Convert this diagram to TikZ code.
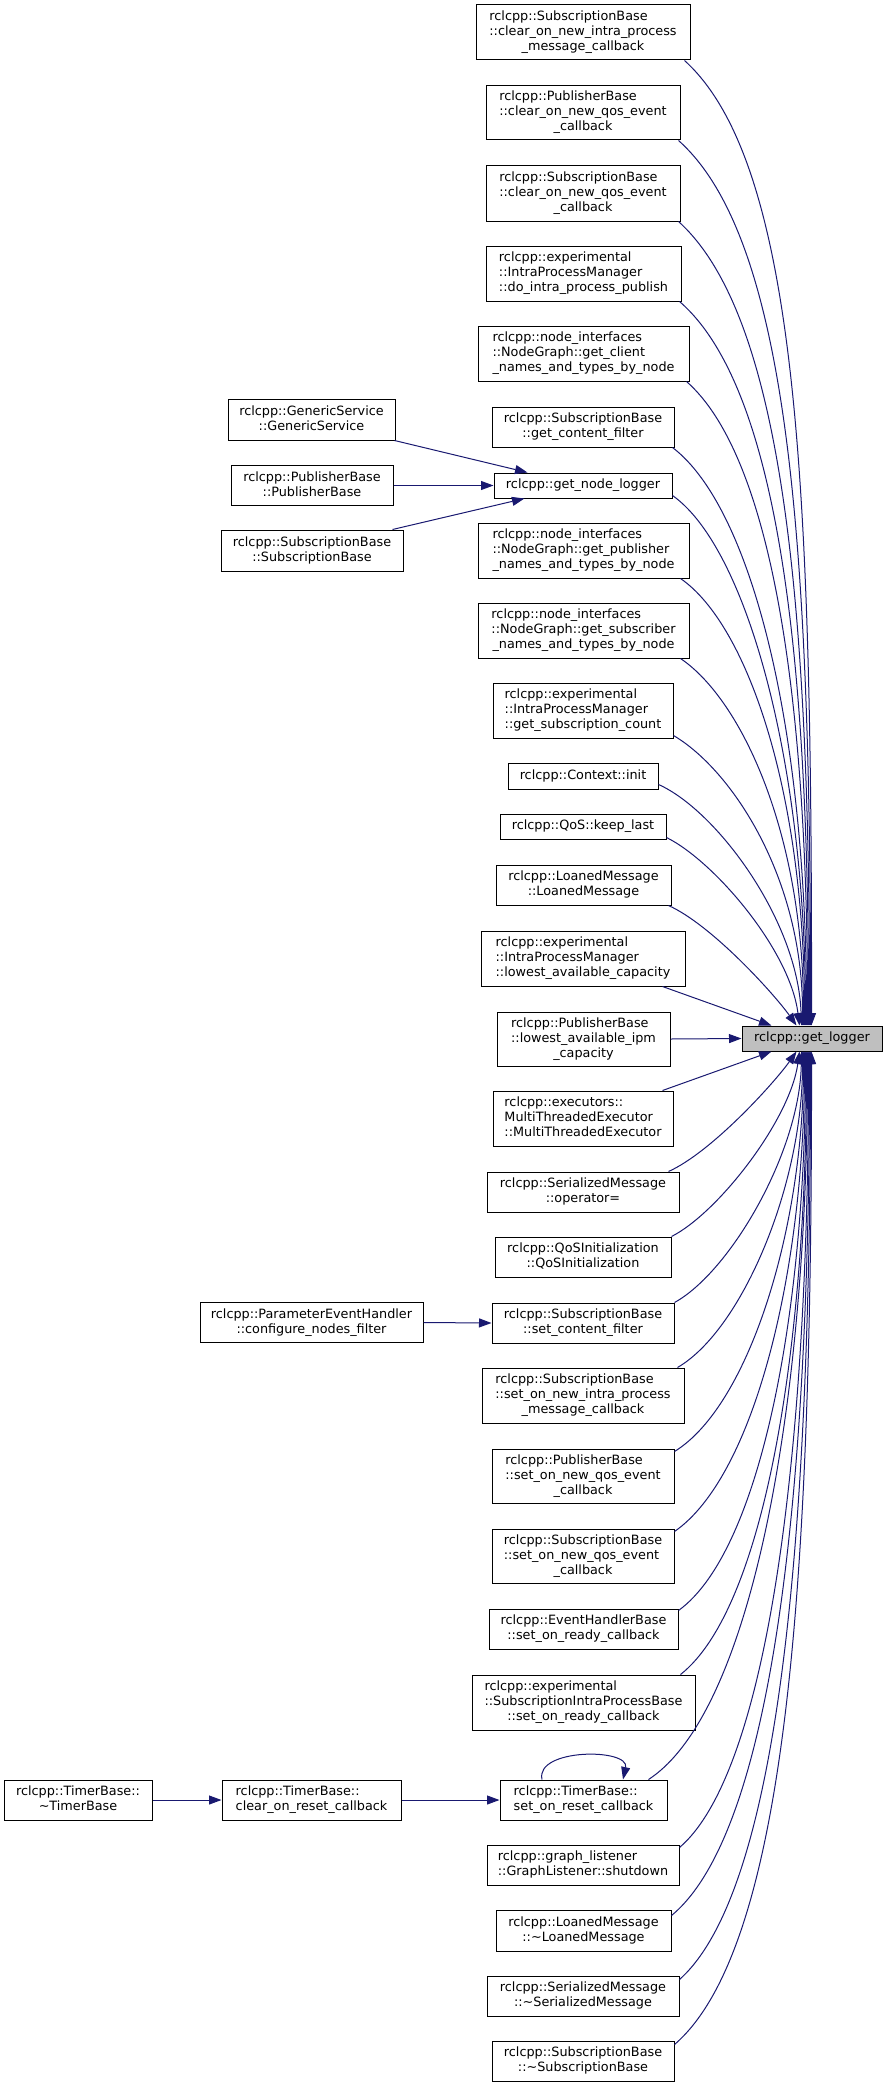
\documentclass[tikz,border=0pt]{standalone}
\usepackage{fontspec}
\setmainfont{DejaVu Sans}
\usetikzlibrary{arrows.meta,calc}
\definecolor{edgecol}{HTML}{191970}
\definecolor{tgtfill}{HTML}{BFBFBF}
\newcommand\gfont{\fontsize{12.8}{15}\selectfont}
\newcommand\tl[2]{\begin{tabular}{@{}l@{}}#1\\\multicolumn{1}{@{}c@{}}{#2}\end{tabular}}
\newcommand\tld{\textasciitilde}
\tikzset{
  box/.style={draw=black, line width=1pt, fill=white, inner sep=0pt, font=\gfont, align=center},
  tgtbox/.style={box, fill=tgtfill},
  edge/.style={draw=edgecol, line width=1pt, -{Triangle[length=12.5pt,width=9pt]}}
}
\begin{document}
\begin{tikzpicture}[x=1pt,y=-1pt]
\useasboundingbox (0,0) rectangle (887,2087);
% target
\node[tgtbox, minimum width=140, minimum height=25] (tgt) at (812,1038.5) {rclcpp::get\_logger};
% middle column
\node[box, minimum width=214, minimum height=55] (n1) at (583,32.5) {\tl{rclcpp::SubscriptionBase\\::clear\_on\_new\_intra\_process}{\_message\_callback}};
\node[box, minimum width=194, minimum height=54] (n2) at (583,113) {\tl{rclcpp::PublisherBase\\::clear\_on\_new\_qos\_event}{\_callback}};
\node[box, minimum width=194, minimum height=55] (n3) at (583,193.5) {\tl{rclcpp::SubscriptionBase\\::clear\_on\_new\_qos\_event}{\_callback}};
\node[box, minimum width=195, minimum height=55] (n4) at (583.5,273.5) {\tl{rclcpp::experimental\\::IntraProcessManager}{::do\_intra\_process\_publish}};
\node[box, minimum width=211, minimum height=55] (n5) at (583.5,353.5) {\tl{rclcpp::node\_interfaces\\::NodeGraph::get\_client}{\_names\_and\_types\_by\_node}};
\node[box, minimum width=182, minimum height=40] (n6) at (583,427) {\tl{rclcpp::SubscriptionBase}{::get\_content\_filter}};
\node[box, minimum width=178, minimum height=25] (n7) at (583,485.5) {rclcpp::get\_node\_logger};
\node[box, minimum width=211, minimum height=55] (n8) at (583.5,550.5) {\tl{rclcpp::node\_interfaces\\::NodeGraph::get\_publisher}{\_names\_and\_types\_by\_node}};
\node[box, minimum width=211, minimum height=55] (n9) at (583.5,630.5) {\tl{rclcpp::node\_interfaces\\::NodeGraph::get\_subscriber}{\_names\_and\_types\_by\_node}};
\node[box, minimum width=180, minimum height=55] (n10) at (583,710.5) {\tl{rclcpp::experimental\\::IntraProcessManager}{::get\_subscription\_count}};
\node[box, minimum width=150, minimum height=26] (n11) at (583,776) {rclcpp::Context::init};
\node[box, minimum width=166, minimum height=25] (n12) at (583,826.5) {rclcpp::QoS::keep\_last};
\node[box, minimum width=175, minimum height=40] (n13) at (583.5,885) {\tl{rclcpp::LoanedMessage}{::LoanedMessage}};
\node[box, minimum width=204, minimum height=55] (n14) at (583,958.5) {\tl{rclcpp::experimental\\::IntraProcessManager}{::lowest\_available\_capacity}};
\node[box, minimum width=173, minimum height=54] (n15) at (583.5,1039) {\tl{rclcpp::PublisherBase\\::lowest\_available\_ipm}{\_capacity}};
\node[box, minimum width=180, minimum height=55] (n16) at (583,1118.5) {\tl{rclcpp::executors::\\MultiThreadedExecutor}{::MultiThreadedExecutor}};
\node[box, minimum width=192, minimum height=40] (n17) at (583,1192) {\tl{rclcpp::SerializedMessage}{::operator=}};
\node[box, minimum width=176, minimum height=40] (n18) at (583,1257) {\tl{rclcpp::QoSInitialization}{::QoSInitialization}};
\node[box, minimum width=182, minimum height=40] (n19) at (583,1323) {\tl{rclcpp::SubscriptionBase}{::set\_content\_filter}};
\node[box, minimum width=202, minimum height=55] (n20) at (583,1395.5) {\tl{rclcpp::SubscriptionBase\\::set\_on\_new\_intra\_process}{\_message\_callback}};
\node[box, minimum width=182, minimum height=54] (n21) at (583,1476) {\tl{rclcpp::PublisherBase\\::set\_on\_new\_qos\_event}{\_callback}};
\node[box, minimum width=182, minimum height=54] (n22) at (583,1556) {\tl{rclcpp::SubscriptionBase\\::set\_on\_new\_qos\_event}{\_callback}};
\node[box, minimum width=189, minimum height=40] (n23) at (583.5,1629) {\tl{rclcpp::EventHandlerBase}{::set\_on\_ready\_callback}};
\node[box, minimum width=223, minimum height=55] (n24) at (583.5,1702.5) {\tl{rclcpp::experimental\\::SubscriptionIntraProcessBase}{::set\_on\_ready\_callback}};
\node[box, minimum width=167, minimum height=40] (n25) at (583.5,1800) {\tl{rclcpp::TimerBase::}{set\_on\_reset\_callback}};
\node[box, minimum width=192, minimum height=40] (n26) at (583,1865) {\tl{rclcpp::graph\_listener}{::GraphListener::shutdown}};
\node[box, minimum width=175, minimum height=41] (n27) at (583.5,1930.5) {\tl{rclcpp::LoanedMessage}{::\tld LoanedMessage}};
\node[box, minimum width=192, minimum height=40] (n28) at (583,1996) {\tl{rclcpp::SerializedMessage}{::\tld SerializedMessage}};
\node[box, minimum width=182, minimum height=40] (n29) at (583,2061) {\tl{rclcpp::SubscriptionBase}{::\tld SubscriptionBase}};
% left nodes
\node[box, minimum width=167, minimum height=41] (g1) at (311.5,419.5) {\tl{rclcpp::GenericService}{::GenericService}};
\node[box, minimum width=162, minimum height=40] (g2) at (312,485.5) {\tl{rclcpp::PublisherBase}{::PublisherBase}};
\node[box, minimum width=182, minimum height=41] (g3) at (312,550.5) {\tl{rclcpp::SubscriptionBase}{::SubscriptionBase}};
\node[box, minimum width=223, minimum height=40] (cf) at (311.5,1322.5) {\tl{rclcpp::ParameterEventHandler}{::configure\_nodes\_filter}};
\node[box, minimum width=179, minimum height=40] (ct) at (311.5,1800) {\tl{rclcpp::TimerBase::}{clear\_on\_reset\_callback}};
\node[box, minimum width=148, minimum height=40] (tb) at (78,1800) {\tl{rclcpp::TimerBase::}{\tld TimerBase}};
% upper edges
\draw[edge] ($(n1.south east)+(-6,0)$) .. controls (800,165) and (812,500) .. ($(tgt.north west)+(70,0)$);
\draw[edge] ($(n2.south east)+(-2,0)$) .. controls (790,240) and (811,550) .. ($(tgt.north west)+(69,0)$);
\draw[edge] ($(n3.south east)+(-2,0)$) .. controls (782,315) and (810,600) .. ($(tgt.north west)+(68,0)$);
\draw[edge] ($(n4.south east)+(-2,0)$) .. controls (776,385) and (809,645) .. ($(tgt.north west)+(67,0)$);
\draw[edge] ($(n5.south east)+(-3,0)$) .. controls (770,455) and (808,690) .. ($(tgt.north west)+(66,0)$);
\draw[edge] ($(n6.south east)+(-2,0)$) .. controls (752,508) and (807,730) .. ($(tgt.north west)+(65,0)$);
\draw[edge] ($(n7.south east)+(0,-3)$) .. controls (747,548) and (806,765) .. ($(tgt.north west)+(64,0)$);
\draw[edge] ($(n8.south east)+(-9,0)$) .. controls (748,625) and (805,795) .. ($(tgt.north west)+(63,0)$);
\draw[edge] ($(n9.south east)+(-9,0)$) .. controls (742,700) and (804,835) .. ($(tgt.north west)+(62,0)$);
\draw[edge] ($(n10.south east)+(0,-3)$) .. controls (732,770) and (803,878) .. ($(tgt.north west)+(61,0)$);
\draw[edge] ($(n11.south east)+(0,-5)$) .. controls (716,810) and (798,920) .. ($(tgt.north west)+(60,0)$);
\draw[edge] ($(n12.south east)+(0,-2)$) .. controls (714,861) and (790,950) .. ($(tgt.north west)+(58,0)$);
\draw[edge] ($(n13.south east)+(-3,0)$) .. controls (712,925) and (775,995) .. ($(tgt.north west)+(55,0)$);
\draw[edge] ($(n14.south east)+(-23,0)$) -- ($(tgt.north west)+(30,0)$);
\draw[edge] (n15.east) -- (tgt.west);
% lower edges
\draw[edge] ($(n16.north east)+(-11,0)$) -- ($(tgt.south west)+(30,0)$);
\draw[edge] ($(n17.north east)+(-11,0)$) .. controls (712,1152) and (775,1082) .. ($(tgt.south west)+(55,0)$);
\draw[edge] (n18.north east) .. controls (718,1213) and (790,1120) .. ($(tgt.south west)+(58,0)$);
\draw[edge] (n19.north east) .. controls (730,1272) and (800,1152) .. ($(tgt.south west)+(60,0)$);
\draw[edge] ($(n20.north east)+(-7,0)$) .. controls (742,1330) and (803,1185) .. ($(tgt.south west)+(61,0)$);
\draw[edge] ($(n21.north east)+(0,3)$) .. controls (750,1405) and (804,1225) .. ($(tgt.south west)+(62,0)$);
\draw[edge] ($(n22.north east)+(0,3)$) .. controls (756,1475) and (805,1265) .. ($(tgt.south west)+(63,0)$);
\draw[edge] ($(n23.north east)+(0,2)$) .. controls (762,1550) and (806,1305) .. ($(tgt.south west)+(64,0)$);
\draw[edge] ($(n24.north east)+(-15,0)$) .. controls (765,1608) and (807,1345) .. ($(tgt.south west)+(65,0)$);
\draw[edge] ($(n25.north east)+(-19,0)$) .. controls (755,1710) and (808,1390) .. ($(tgt.south west)+(66,0)$);
\draw[edge] ($(n26.north east)+(0,3)$) .. controls (770,1770) and (809,1440) .. ($(tgt.south west)+(67,0)$);
\draw[edge] ($(n27.north east)+(0,6)$) .. controls (775,1830) and (810,1480) .. ($(tgt.south west)+(68,0)$);
\draw[edge] ($(n28.north east)+(0,4)$) .. controls (782,1888) and (811,1520) .. ($(tgt.south west)+(69,0)$);
\draw[edge] ($(n29.north east)+(0,4)$) .. controls (790,1945) and (812,1560) .. ($(tgt.south west)+(70,0)$);
% self loop
\draw[edge] ($(n25.north)+(-41.5,0)$) .. controls (535,1748) and (630,1748) .. ($(n25.north)+(39.5,0)$);
% left edges
\draw[edge] ($(g1.south east)+(-1,0)$) -- ($(n7.north west)+(34,0)$);
\draw[edge] (g2.east) -- (n7.west);
\draw[edge] ($(g3.north east)+(-11,0)$) -- ($(n7.south west)+(31,0)$);
\draw[edge] (cf.east) -- (n19.west);
\draw[edge] (tb.east) -- (ct.west);
\draw[edge] (ct.east) -- (n25.west);
\end{tikzpicture}
\end{document}
